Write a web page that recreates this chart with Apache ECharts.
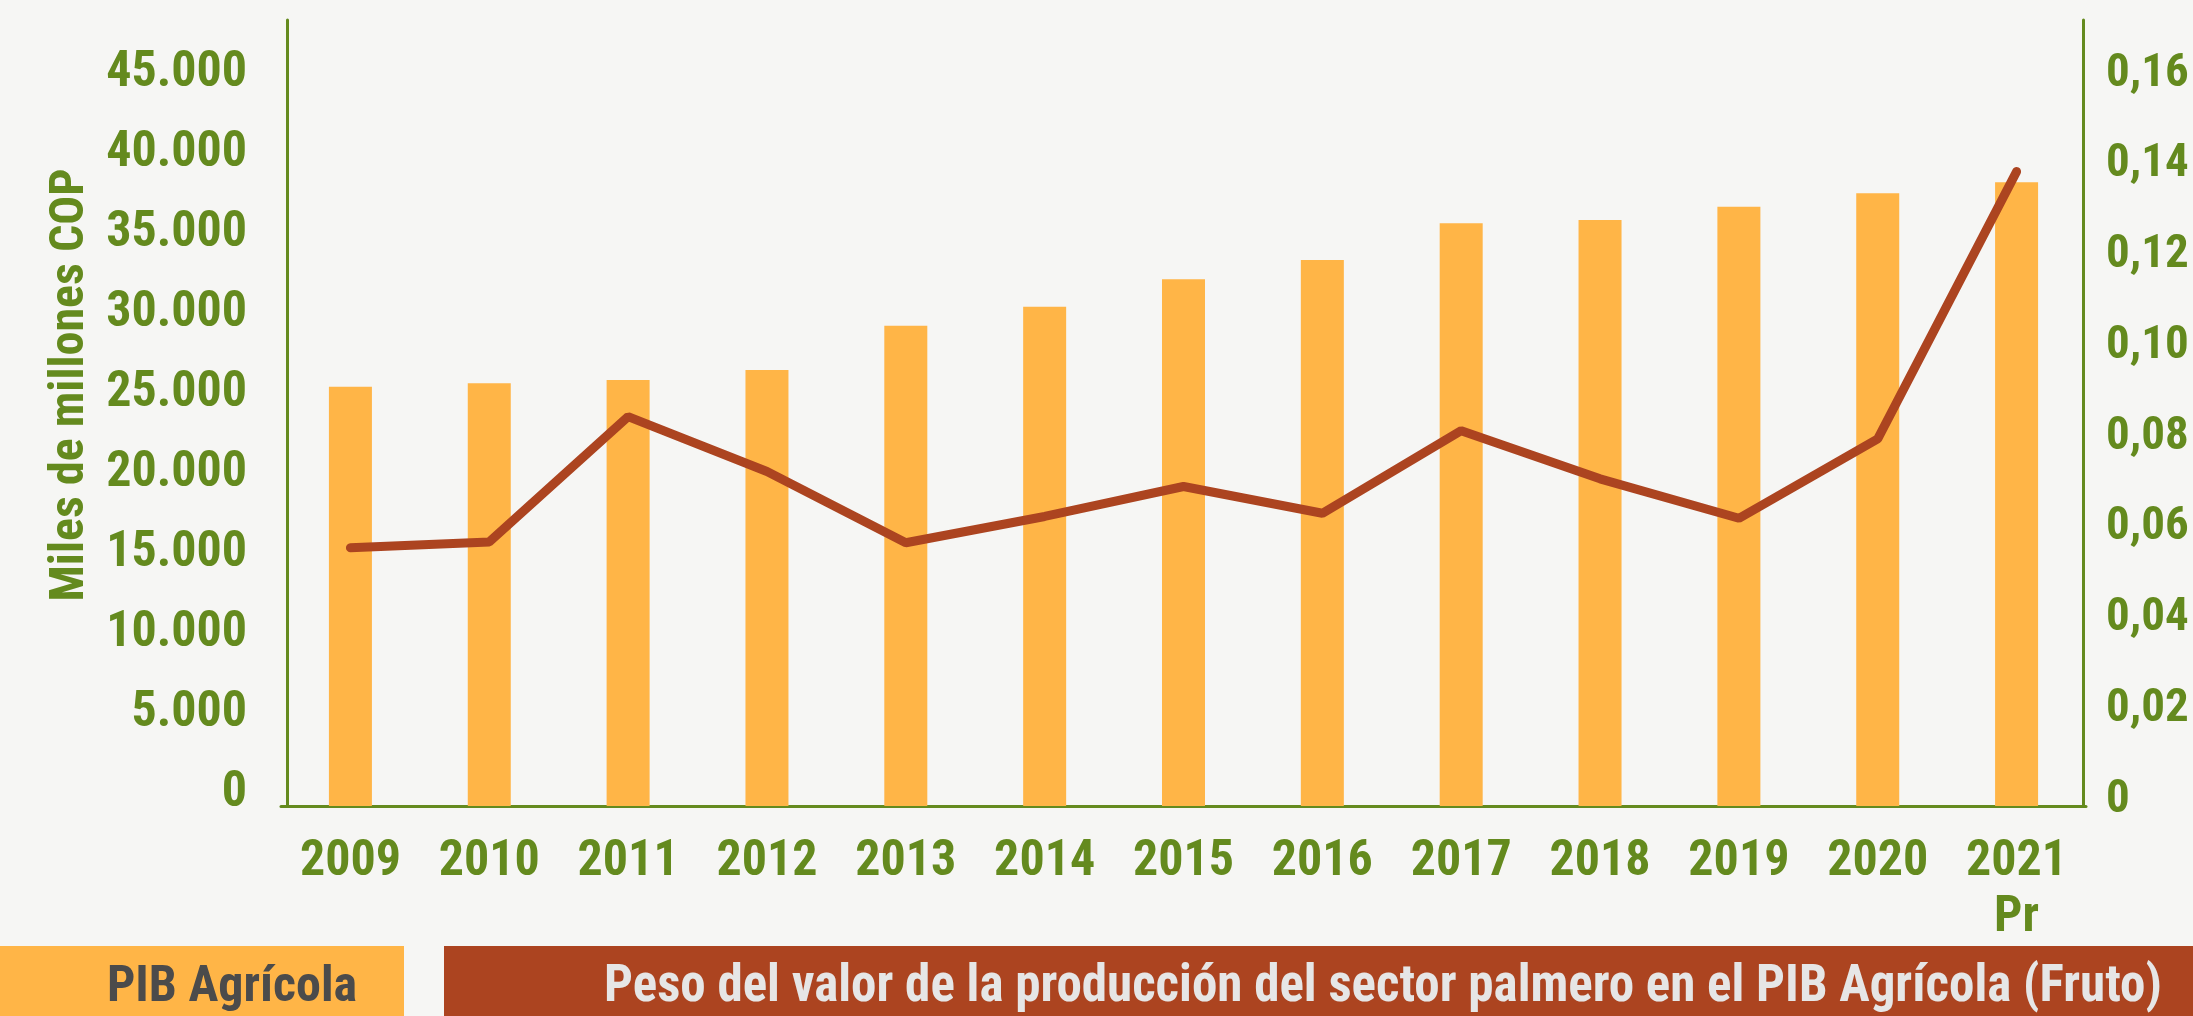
<!DOCTYPE html>
<html>
<head>
<meta charset="utf-8">
<script src="https://cdn.jsdelivr.net/npm/echarts@6/dist/echarts.min.js"></script>
<style>
  html, body { margin: 0; padding: 0; background: #f6f6f4; }
  #chart { width: 2193px; height: 1016px; }
</style>
</head>
<body>
<div id="chart"></div>
<script>
// Data
const years = ['2009', '2010', '2011', '2012', '2013', '2014', '2015', '2016', '2017', '2018', '2019', '2020', '2021\nPr'];
const pibAgricola = [26200, 26420, 26630, 27250, 30020, 31210, 32920, 34130, 36420, 36630, 37460, 38290, 38980];
const pesoPalmero = [0.0569, 0.0582, 0.0858, 0.0737, 0.0580, 0.0638, 0.0704, 0.0645, 0.0827, 0.0721, 0.0634, 0.0809, 0.1398];

const leftMax = 49125, leftStep = 5000;
const rightMax = 0.1732, rightStep = 0.02;

const legendLeft = 'PIB Agrícola';
const legendRight = 'Peso del valor de la producción del sector palmero en el PIB Agrícola (Fruto)';

const green = '#648a1e';
const yellow = '#ffb547';
const brown = '#ac4420';
const font = '"Roboto Condensed", "Liberation Sans Narrow", "Noto Sans Condensed", "DejaVu Sans Condensed", sans-serif';

const chart = echarts.init(document.getElementById('chart'));

chart.setOption({
  animation: false,
  backgroundColor: '#f6f6f4',
  grid: { left: 281, top: 20, width: 1805, height: 786 },
  xAxis: {
    type: 'category',
    data: years,
    axisLine: { lineStyle: { color: green, width: 3 } },
    axisTick: { show: false },
    axisLabel: {
      color: green, fontFamily: font, fontWeight: 'bold',
      fontSize: 50, lineHeight: 56, margin: 28, interval: 0
    }
  },
  yAxis: [
    {
      type: 'value',
      min: 0, max: leftMax, interval: leftStep,
      offset: -6,
      name: 'Miles de millones COP',
      nameLocation: 'middle',
      nameRotate: 90,
      nameGap: 190,
      nameTextStyle: {
        color: green, fontFamily: font, fontWeight: 'bold', fontSize: 48,
        padding: [0, 0, 0, 56]
      },
      axisLine: { show: true, lineStyle: { color: green, width: 3 } },
      axisTick: { show: false },
      splitLine: { show: false },
      axisLabel: {
        color: green, fontFamily: font, fontWeight: 'bold', fontSize: 50,
        margin: 40, verticalAlign: 'bottom', lineHeight: 26,
        showMaxLabel: false,
        formatter: v => v === 0 ? '0' : v.toLocaleString('de-DE')
      }
    },
    {
      type: 'value',
      min: 0, max: rightMax, interval: rightStep,
      offset: -3,
      position: 'right',
      axisLine: { show: true, lineStyle: { color: green, width: 3 } },
      axisTick: { show: false },
      splitLine: { show: false },
      axisLabel: {
        color: green, fontFamily: font, fontWeight: 'bold', fontSize: 47,
        margin: 23, verticalAlign: 'bottom', lineHeight: 12,
        showMaxLabel: false,
        formatter: v => v === 0 ? '0' : v.toFixed(2).replace('.', ',')
      }
    }
  ],
  series: [
    {
      name: legendLeft,
      type: 'bar',
      data: pibAgricola,
      barWidth: 43,
      itemStyle: { color: yellow },
      z: 2
    },
    {
      name: legendRight,
      type: 'line',
      yAxisIndex: 1,
      data: pesoPalmero,
      symbol: 'none',
      lineStyle: { color: brown, width: 9, cap: 'round' },
      z: 3
    }
  ],
  graphic: [
    { type: 'rect', shape: { x: 0, y: 946, width: 404, height: 70 }, style: { fill: yellow } },
    { type: 'text', x: 232, y: 988, style: {
        text: legendLeft, fill: '#4b4b4b', font: 'bold 50px ' + font,
        textAlign: 'center', textVerticalAlign: 'middle' } },
    { type: 'rect', shape: { x: 444, y: 946, width: 1749, height: 70 }, style: { fill: brown } },
    { type: 'text', x: 1383, y: 988, style: {
        text: legendRight, fill: '#e6e6e6', font: 'bold 51px ' + font,
        textAlign: 'center', textVerticalAlign: 'middle' } }
  ]
});
</script>
</body>
</html>
